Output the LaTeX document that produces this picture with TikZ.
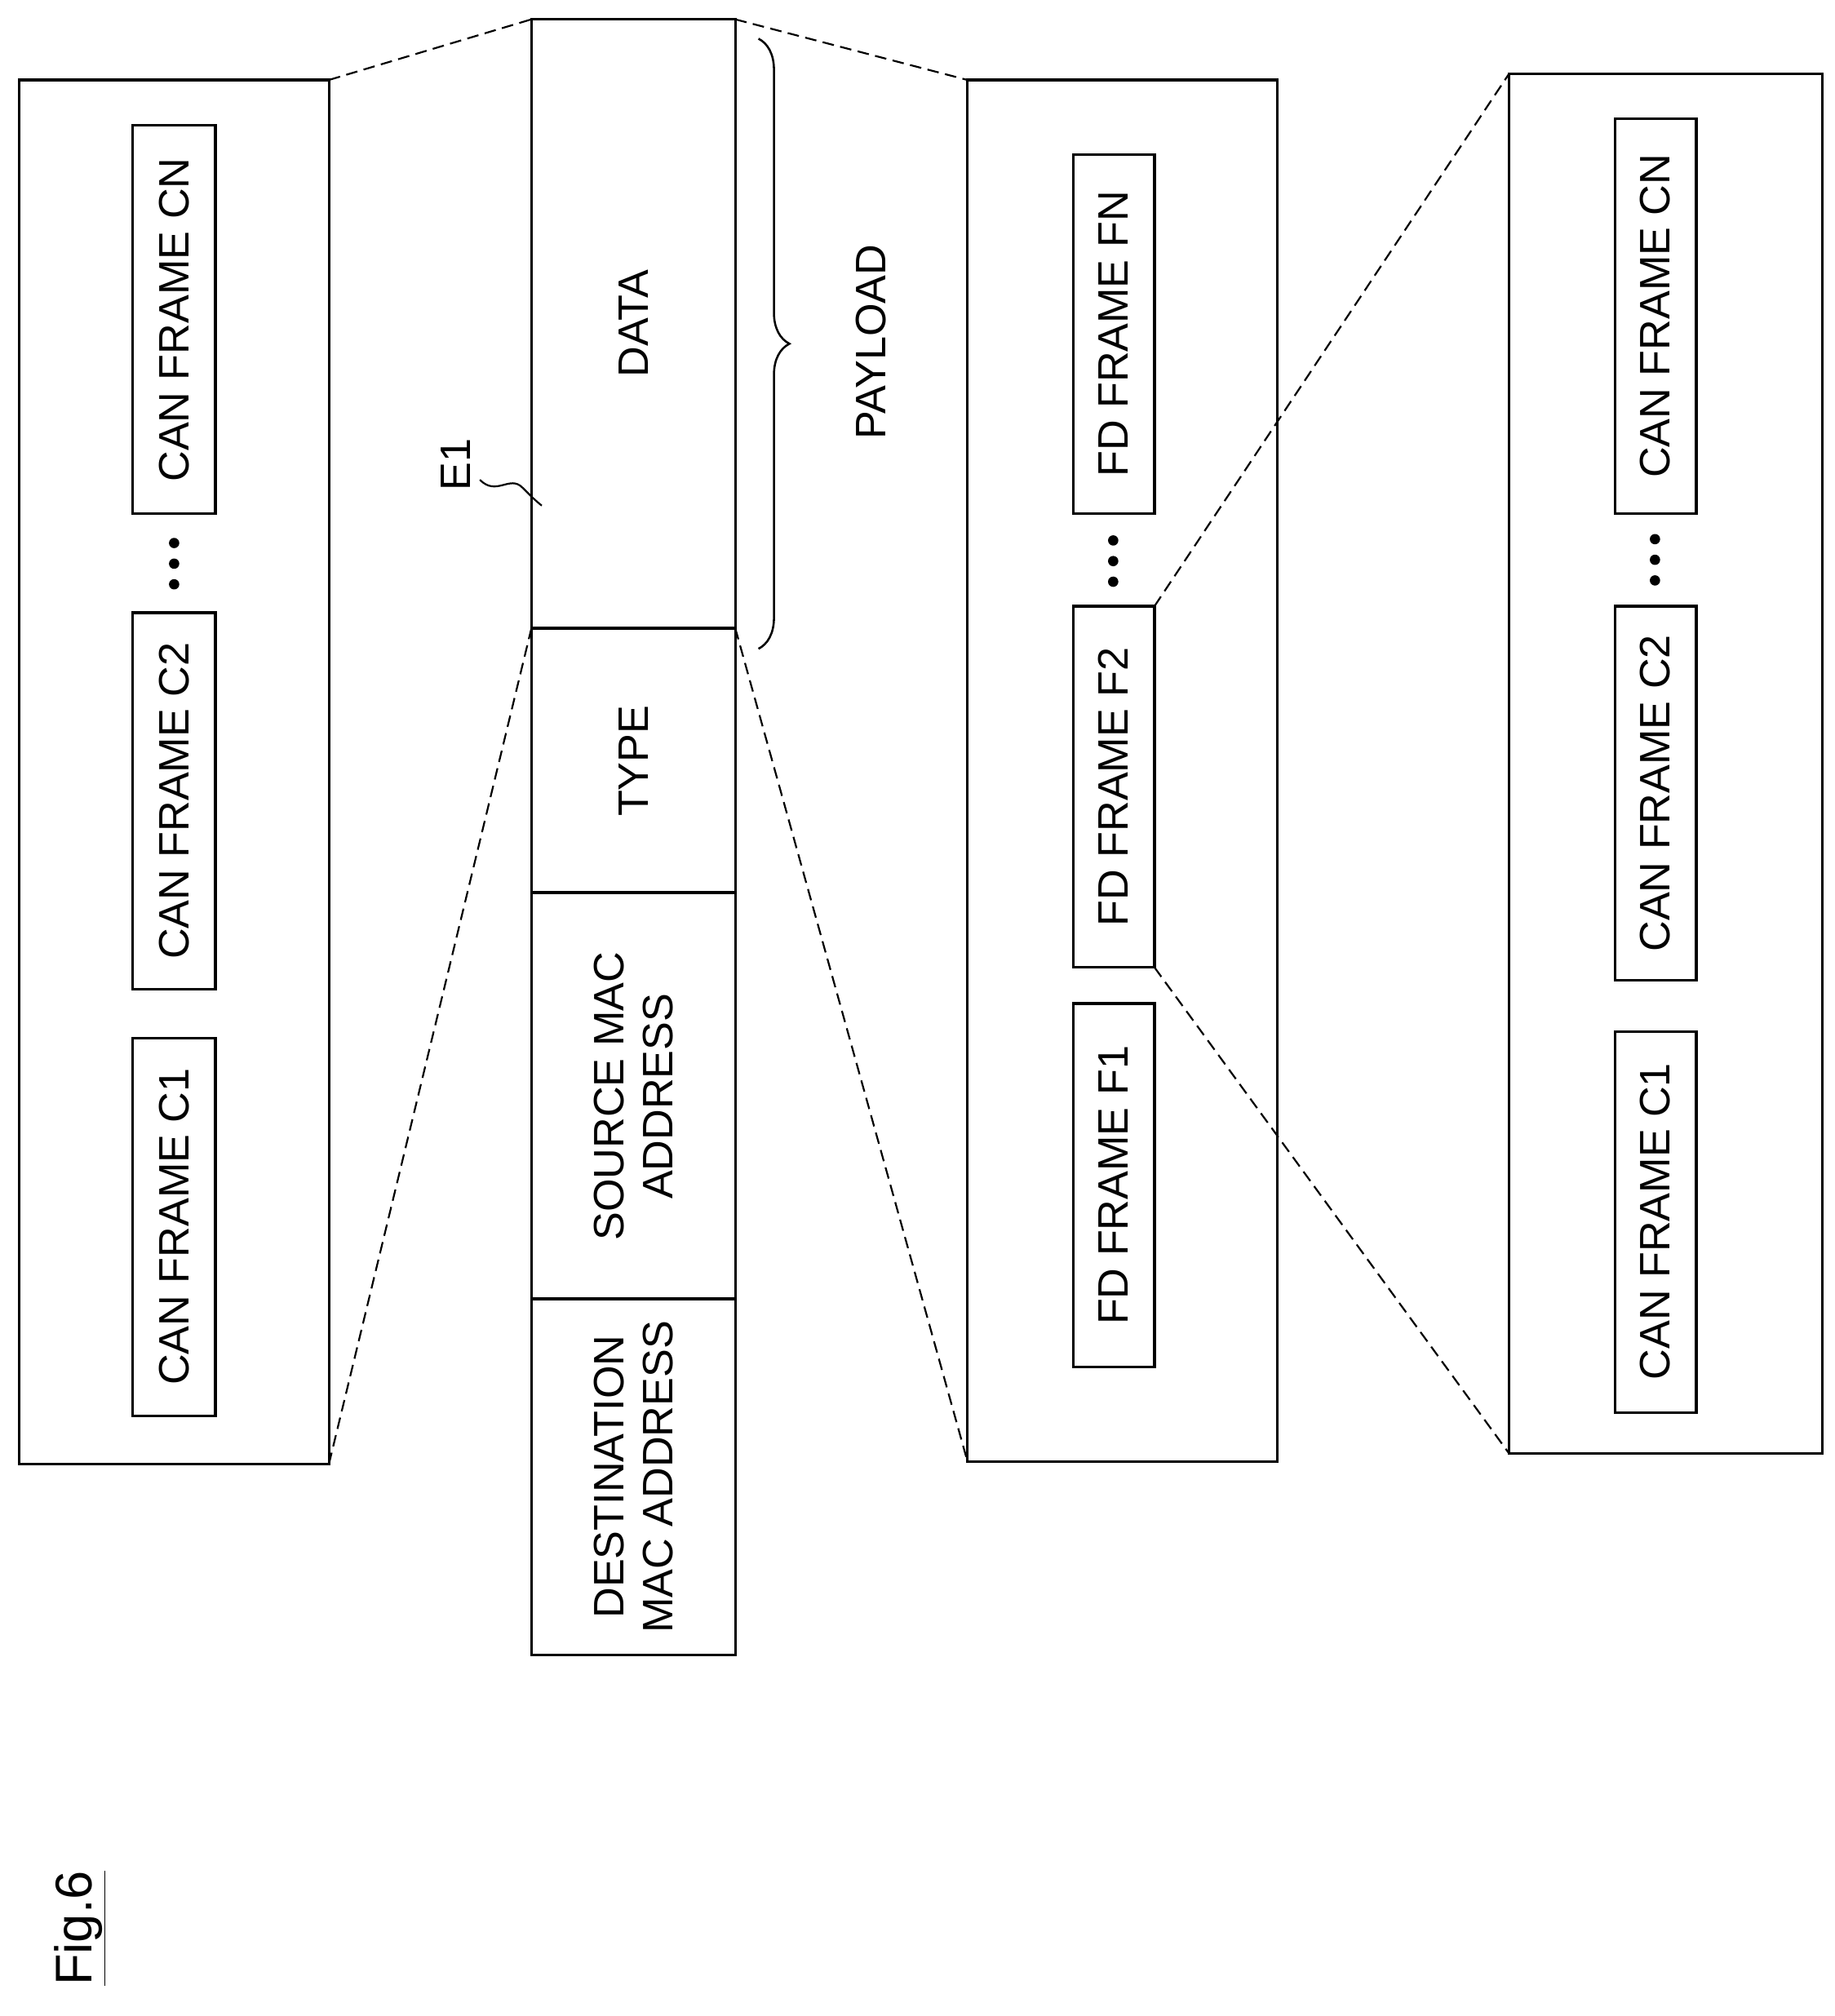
\documentclass[tikz,border=0pt]{standalone}
\usepackage{fontspec}
\setmainfont{Liberation Sans}
\usetikzlibrary{decorations.pathreplacing}
\begin{document}
\begin{tikzpicture}[x=1pt,y=-1pt,line width=2pt,
  lbl/.style={font=\fontsize{33}{38}\selectfont,rotate=90,align=center},
  dline/.style={line width=1.4pt,dash pattern=on 9pt off 5pt},
  dot/.style={circle,fill,inner sep=0pt,minimum size=8pt}]
\useasboundingbox (0,0) rectangle (1422,1563);
% left box
\draw (15,62) rectangle (255,1135);
\draw (103,805) rectangle (167,1098); \node[lbl] (lc1) at (135,951) {CAN FRAME C1};
\draw (103,475) rectangle (167,767); \node[lbl] (lc2) at (135,621) {CAN FRAME C2};
\draw (103,97) rectangle (167,398); \node[lbl] (lcn) at (135,248) {CAN FRAME CN};
\foreach \y in {421,437,453} \node[dot] at (135,\y) {};
% middle
\draw (412,15) rectangle (570,1283);
\draw (412,487) -- (570,487); \draw (412,692) -- (570,692); \draw (412,1007) -- (570,1007);
\node[lbl] (data) at (491,251) {DATA};
\node[lbl] (type) at (491,590) {TYPE};
\node[lbl] (src) at (491,850) {SOURCE MAC\\ADDRESS};
\node[lbl] (dst) at (491,1145) {DESTINATION\\MAC ADDRESS};
\draw[line width=1.6pt,decorate,decoration={brace,amplitude=24pt}] (588,30) -- (588,503);
\node[lbl] (pay) at (675,265) {PAYLOAD};
\node[lbl] (e1) at (353,360) {E1};
\draw[line width=1.4pt] (372,372) .. controls (385,385) and (395,368) .. (405,378) .. controls (412,385) and (415,388) .. (420,392);
% dashed connectors
\draw[dline] (255,62) -- (412,15);
\draw[dline] (255,1135) -- (412,487);
\draw[dline] (570,15) -- (750,62);
\draw[dline] (570,487) -- (750,1133);
% FD box
\draw (750,62) rectangle (990,1133);
\draw (832,778) rectangle (895,1060); \node[lbl] at (863,919) {FD FRAME F1};
\draw (832,470) rectangle (895,750); \node[lbl] at (863,610) {FD FRAME F2};
\draw (832,120) rectangle (895,398); \node[lbl] at (863,259) {FD FRAME FN};
\foreach \y in {419,435,451} \node[dot] at (863,\y) {};
% right box
\draw (1170,57) rectangle (1413,1127);
\draw (1252,800) rectangle (1315,1095); \node[lbl] at (1283,947) {CAN FRAME C1};
\draw (1252,470) rectangle (1315,760); \node[lbl] at (1283,615) {CAN FRAME C2};
\draw (1252,92) rectangle (1315,398); \node[lbl] at (1283,245) {CAN FRAME CN};
\foreach \y in {418,434,450} \node[dot] at (1283,\y) {};
\draw[dline] (895,470) -- (1170,57);
\draw[dline] (895,750) -- (1170,1127);
% fig label
\node[rotate=90,font=\fontsize{40}{44}\selectfont] (fig) at (62,1495) {\underline{Fig.6}};
\end{tikzpicture}
\end{document}
